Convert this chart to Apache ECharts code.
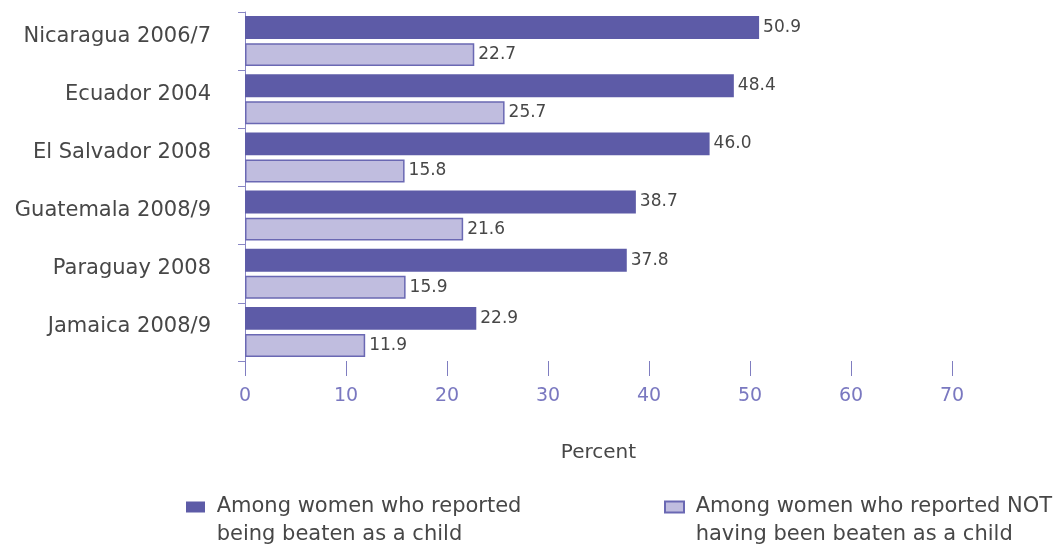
<!DOCTYPE html>
<html><head><meta charset="utf-8">
<script src="https://cdn.jsdelivr.net/npm/echarts@6/dist/echarts.min.js"></script>
<style>html,body{margin:0;padding:0;background:#fff}#c{width:1064px;height:545px}</style>
</head><body><div id="c"></div>
<script>
const categories = ['Nicaragua 2006/7','Ecuador 2004','El Salvador 2008','Guatemala 2008/9','Paraguay 2008','Jamaica 2008/9'];
const beaten = [50.9, 48.4, 46.0, 38.7, 37.8, 22.9];
const notBeaten = [22.7, 25.7, 15.8, 21.6, 15.9, 11.9];
const seriesNames = ['Among women who reported\nbeing beaten as a child','Among women who reported NOT\nhaving been beaten as a child'];
const xTicks = {min: 0, max: 70, interval: 10};

const FONT = 'DejaVu Sans';
const FW = 'normal';
const TXT = '#474747';
const chart = echarts.init(document.getElementById('c'), null, {renderer: 'canvas'});
const legendText = {fontFamily: FONT, fontWeight: FW, fontSize: 21, color: TXT, lineHeight: 28};
const legendFmt = name => ' \n' + name.split('\n').map(s => ' ' + s).join('\n');
chart.setOption({
  animation: false,
  textStyle: {fontFamily: FONT},
  grid: {left: 245, right: 112, top: 12, bottom: 184, containLabel: false},
  legend: [
    {data: [seriesNames[0]], left: 181, top: 460, itemWidth: 19, itemHeight: 11, itemGap: 0, textStyle: legendText, icon: 'rect', formatter: legendFmt},
    {data: [seriesNames[1]], left: 659, top: 460, itemWidth: 19, itemHeight: 11, itemGap: 0, textStyle: legendText, icon: 'rect', formatter: legendFmt}
  ],
  xAxis: {
    type: 'value', min: xTicks.min, max: xTicks.max, interval: xTicks.interval,
    name: 'Percent', nameLocation: 'middle', nameGap: 82,
    nameTextStyle: {fontFamily: FONT, fontWeight: FW, fontSize: 20, color: TXT},
    axisLine: {show: false},
    axisTick: {show: true, length: 15, lineStyle: {color: '#7f7dc0', width: 1}},
    axisLabel: {margin: 26, fontFamily: FONT, fontWeight: FW, fontSize: 19, color: '#7a78c0'},
    splitLine: {show: false}
  },
  yAxis: {
    type: 'category', data: categories, inverse: true,
    axisLine: {show: true, lineStyle: {color: '#8886c4', width: 1}},
    axisTick: {show: true, length: 7, lineStyle: {color: '#8886c4'}},
    axisLabel: {
      margin: 34, formatter: v => '{a|' + v + '}\n{b| }',
      rich: {
        a: {fontFamily: FONT, fontWeight: FW, fontSize: 21, color: TXT, lineHeight: 26, align: 'right'},
        b: {fontSize: 8, lineHeight: 10, align: 'right'}
      }
    }
  },
  series: [
    {name: seriesNames[0], type: 'bar', data: beaten, barGap: '18%', barCategoryGap: '14%',
     itemStyle: {color: '#5d5ba7'},
     label: {show: true, position: 'right', distance: 4, formatter: p => p.value.toFixed(1), fontFamily: FONT, fontWeight: FW, fontSize: 17, color: TXT}},
    {name: seriesNames[1], type: 'bar', data: notBeaten, barGap: '18%', barCategoryGap: '14%',
     itemStyle: {color: '#c0bddf', borderColor: '#6a68b3', borderWidth: 1.5},
     label: {show: true, position: 'right', distance: 4, formatter: p => p.value.toFixed(1), fontFamily: FONT, fontWeight: FW, fontSize: 17, color: TXT}}
  ]
});
</script></body></html>
